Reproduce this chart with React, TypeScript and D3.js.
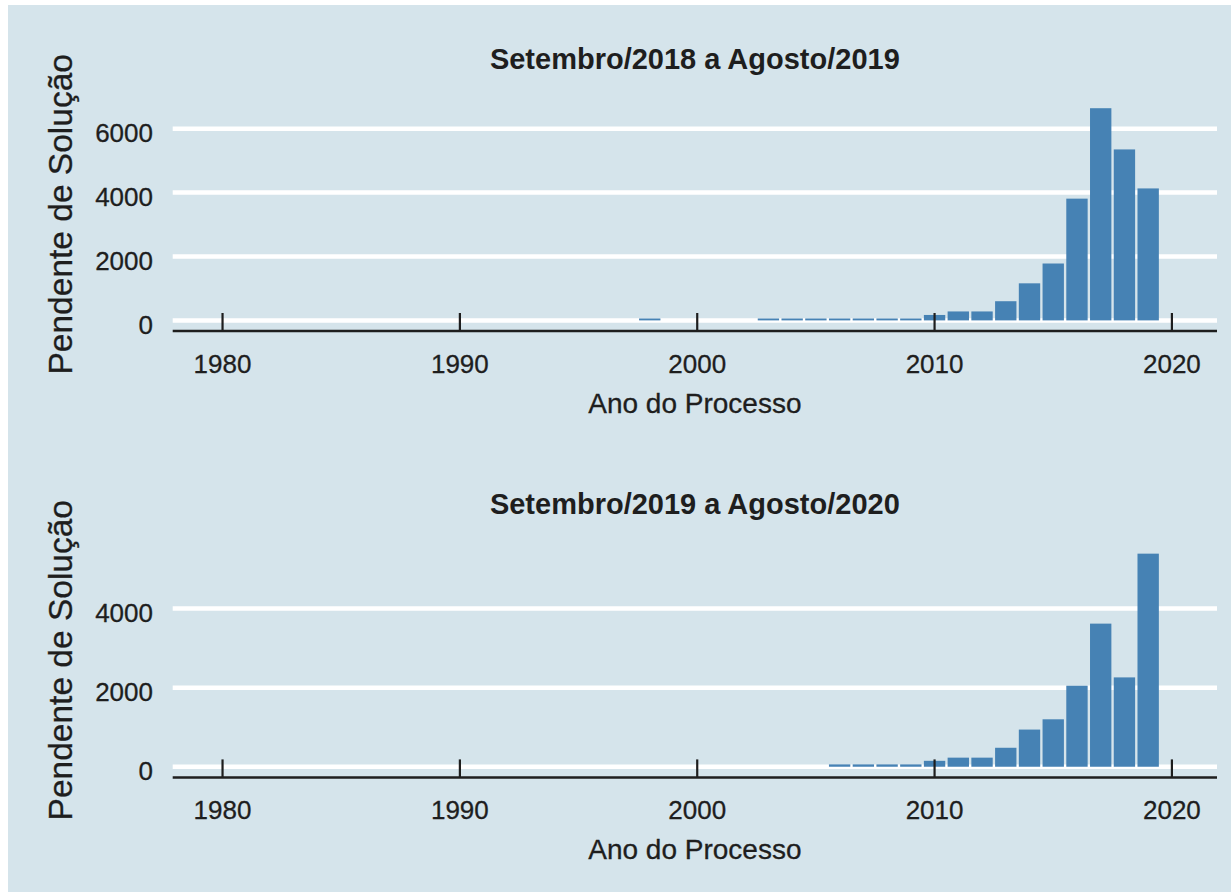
import React from "react";
import * as d3 from "d3";

const titles = ["Setembro/2018 a Agosto/2019", "Setembro/2019 a Agosto/2020"];
const yLabel = "Pendente de Solução";
const xLabel = "Ano do Processo";

const years1 = [1998, 2003, 2004, 2005, 2006, 2007, 2008, 2009, 2010, 2011, 2012, 2013, 2014, 2015, 2016, 2017, 2018, 2019];
const values1 = [60, 60, 60, 60, 60, 60, 60, 60, 170, 280, 280, 600, 1160, 1780, 3810, 6640, 5350, 4130];

const years2 = [2006, 2007, 2008, 2009, 2010, 2011, 2012, 2013, 2014, 2015, 2016, 2017, 2018, 2019];
const values2 = [60, 60, 60, 60, 150, 230, 230, 480, 940, 1200, 2050, 3620, 2260, 5390];

const xTicks = [1980, 1990, 2000, 2010, 2020];
const yTicks1 = [0, 2000, 4000, 6000];
const yTicks2 = [0, 2000, 4000];

const W = 1231;
const H = 893;
const BG = "#d5e4eb";
const BAR = "#4682b4";
const TEXT = "#1e1e1e";
const FONT = "'Liberation Sans', Arial, sans-serif";

const xLeft = 172.7;
const xRight = 1217;
const xScale = d3.scaleLinear().domain([1977.9, 2021.9]).range([xLeft, xRight]);
const barW = 0.9;

type PanelProps = {
  title: string;
  years: number[];
  values: number[];
  yTicks: number[];
  top: number;
  height: number;
};

function Panel({ title, years, values, yTicks, top, height }: PanelProps) {
  const max = d3.max(values) as number;
  const bottom = top + height;
  const y = d3.scaleLinear().domain([-0.05 * max, 1.05 * max]).range([bottom, top]);
  const y0 = y(0);
  return (
    <g>
      <text x={(xLeft + xRight) / 2} y={top - 29} textAnchor="middle" fontFamily={FONT} fontWeight="bold" fontSize={29} fill={TEXT}>
        {title}
      </text>
      {yTicks.map((t) => (
        <line key={"g" + t} x1={xLeft} x2={xRight} y1={y(t)} y2={y(t)} stroke="#ffffff" strokeWidth={4.5} />
      ))}
      {years.map((yr, i) => (
        <rect
          key={yr}
          x={xScale(yr - barW / 2)}
          width={xScale(yr + barW / 2) - xScale(yr - barW / 2)}
          y={y(values[i])}
          height={y0 - y(values[i])}
          fill={BAR}
        />
      ))}
      <line x1={xLeft} x2={xRight} y1={bottom} y2={bottom} stroke={TEXT} strokeWidth={2.5} />
      {xTicks.map((t) => (
        <g key={"x" + t}>
          <line x1={xScale(t)} x2={xScale(t)} y1={bottom} y2={bottom - 18} stroke={TEXT} strokeWidth={2.2} />
          <text x={xScale(t)} y={bottom + 42} textAnchor="middle" fontFamily={FONT} fontSize={26} fill={TEXT} stroke={TEXT} strokeWidth={0.3}>
            {t}
          </text>
        </g>
      ))}
      {yTicks.map((t) => (
        <text key={"yl" + t} x={153} y={y(t) + 13.4} textAnchor="end" fontFamily={FONT} fontSize={26} fill={TEXT} stroke={TEXT} strokeWidth={0.3}>
          {t}
        </text>
      ))}
      <text x={(xLeft + xRight) / 2} y={bottom + 82} textAnchor="middle" fontFamily={FONT} fontSize={28} fill={TEXT} stroke={TEXT} strokeWidth={0.3}>
        {xLabel}
      </text>
      <text
        transform={`translate(72, ${(top + bottom) / 2}) rotate(-90)`}
        textAnchor="middle"
        fontFamily={FONT}
        fontSize={33.5}
        fill={TEXT}
        stroke={TEXT}
        strokeWidth={0.3}
      >
        {yLabel}
      </text>
    </g>
  );
}

export default function App() {
  return (
    <svg width={W} height={H} style={{ position: "absolute", left: 0, top: 0 }}>
      <rect x={0} y={0} width={W} height={H} fill="#ffffff" />
      <rect x={8} y={5} width={W - 8} height={887} fill={BG} />
      <Panel title={titles[0]} years={years1} values={values1} yTicks={yTicks1} top={97.6} height={233.4} />
      <Panel title={titles[1]} years={years2} values={values2} yTicks={yTicks2} top={543} height={234.4} />
    </svg>
  );
}
